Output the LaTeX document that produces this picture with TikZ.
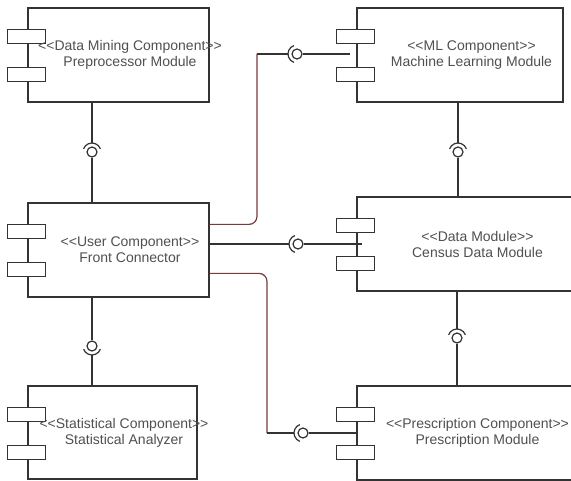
\documentclass[tikz,border=0pt]{standalone}
\usepackage{fontspec}
\setmainfont{Liberation Sans}
\usetikzlibrary{calc}
\definecolor{edge}{RGB}{51,51,51}
\definecolor{txt}{RGB}{80,80,80}
\definecolor{wirered}{RGB}{122,58,58}
\begin{document}
\begin{tikzpicture}[x=1pt,y=-1pt,
 comp/.style={draw=edge,line width=1.2pt,fill=white,rectangle,inner sep=0,minimum height=94pt},
 tabbox/.style={draw=edge,line width=1.2pt,fill=white,rectangle,inner sep=0,minimum width=38pt,minimum height=14pt},
 lbl/.style={text=txt,font=\fontsize{14}{16}\selectfont,align=center,inner sep=0},
 ball/.style={draw=edge,line width=1.2pt,circle,inner sep=0,minimum size=10pt},
 wire/.style={draw=edge,line width=1.2pt},
 redwire/.style={draw=wirered,line width=1.2pt,rounded corners=8pt},
 sock/.style={draw=edge,line width=1.2pt}]
\useasboundingbox (0,0) rectangle (571,481);
\clip (0,0) rectangle (571,481);
\fill[white] (0,0) rectangle (571,481);

% components
\node[comp,minimum width=181pt] (b1) at (118.5,55) {};
\node[comp,minimum width=206pt] (b2) at (460,55) {};
\node[comp,minimum width=181pt] (b3) at (118.5,250) {};
\node[comp,minimum width=218pt] (b4) at (466,244) {};
\node[comp,minimum width=218pt] (b5) at (466,433) {};
\node[comp,minimum width=169pt,minimum height=93pt] (b6) at (112.5,432.5) {};

\foreach \b in {b1,b2,b3,b4,b5,b6}{
  \node[tabbox] (\b ta) at ($(\b.north west)+(-1,29)$) {};
  \node[tabbox] (\b tb) at ($(\b.north west)+(-1,67)$) {};
}

% labels
\node[lbl] (l1) at ($(b1.center)+(11.5,0)$) {<\kern0pt<Data Mining Component>\kern0pt>\\Preprocessor Module};
\node[lbl] (l2) at ($(b2.center)+(11.5,0)$) {<\kern0pt<ML Component>\kern0pt>\\Machine Learning Module};
\node[lbl] (l3) at ($(b3.center)+(11.5,0)$) {<\kern0pt<User Component>\kern0pt>\\Front Connector};
\node[lbl] (l4) at ($(b4.center)+(11.5,0)$) {<\kern0pt<Data Module>\kern0pt>\\Census Data Module};
\node[lbl] (l5) at ($(b5.center)+(11.5,0)$) {<\kern0pt<Prescription Component>\kern0pt>\\Prescription Module};
\node[lbl] (l6) at ($(b6.center)+(11.5,0.5)$) {<\kern0pt<Statistical Component>\kern0pt>\\Statistical Analyzer};

% interface b1 - b3
\node[ball] (i1) at (92,152) {};
\draw[sock] ($(i1.center)+(160:9pt)$) arc[start angle=160,end angle=20,radius=9pt];
\draw[wire] (i1 |- b1.south) -- ($(i1.center)+(90:9pt)$);
\draw[wire] (i1.south) -- (i1 |- b3.north);

% interface b2 - b4
\node[ball] (i2) at (458,152) {};
\draw[sock] ($(i2.center)+(160:9pt)$) arc[start angle=160,end angle=20,radius=9pt];
\draw[wire] (i2 |- b2.south) -- ($(i2.center)+(90:9pt)$);
\draw[wire] (i2.south) -- (i2 |- b4.north);

% interface b4 - b5
\node[ball] (i3) at (457,338) {};
\draw[sock] ($(i3.center)+(160:9pt)$) arc[start angle=160,end angle=20,radius=9pt];
\draw[wire] (i3 |- b4.south) -- ($(i3.center)+(90:9pt)$);
\draw[wire] (i3.south) -- (i3 |- b5.north);

% interface b3 - b6
\node[ball] (i4) at (92,346) {};
\draw[sock] ($(i4.center)+(200:9pt)$) arc[start angle=200,end angle=340,radius=9pt];
\draw[wire] (i4 |- b3.south) -- (i4.north);
\draw[wire] ($(i4.center)+(270:9pt)$) -- (i4 |- b6.north);

% interface b3 - b2
\node[ball] (i5) at (297,54) {};
\coordinate (s5) at ($(b3.north east)+(0,22)$);
\coordinate (k5) at (257,54);
\coordinate (e5) at (350,54);
\draw[sock] ($(i5.center)+(110:9pt)$) arc[start angle=110,end angle=250,radius=9pt];
\draw[redwire] (s5) -| (k5);
\draw[wire] (k5) -- ($(i5.center)+(180:9pt)$);
\draw[wire] (i5.east) -- (e5);

% interface b3 - b4
\node[ball] (i6) at (298,244) {};
\coordinate (s6) at (b3.east |- i6);
\coordinate (e6) at (362,244);
\draw[sock] ($(i6.center)+(110:9pt)$) arc[start angle=110,end angle=250,radius=9pt];
\draw[wire] (s6) -- ($(i6.center)+(180:9pt)$);
\draw[wire] (i6.east) -- (e6);

% interface b3 - b5
\node[ball] (i7) at (303,433) {};
\coordinate (s7) at ($(b3.north east)+(0,71)$);
\coordinate (k7) at (267,433);
\coordinate (e7) at (b5.west |- i7);
\draw[sock] ($(i7.center)+(110:9pt)$) arc[start angle=110,end angle=250,radius=9pt];
\draw[redwire] (s7) -| (k7);
\draw[wire] (k7) -- ($(i7.center)+(180:9pt)$);
\draw[wire] (i7.east) -- (e7);
\end{tikzpicture}
\end{document}
